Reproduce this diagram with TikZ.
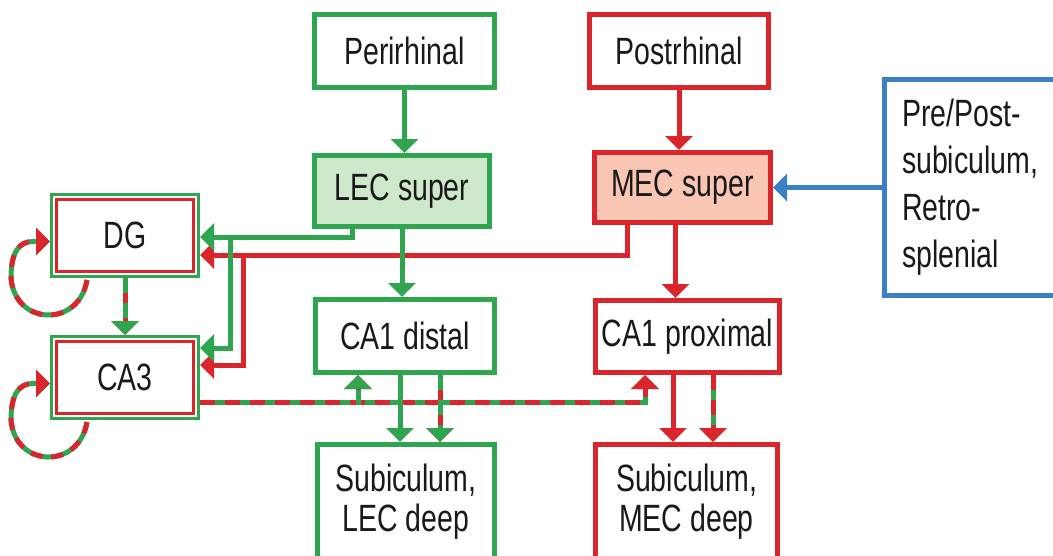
\documentclass[tikz,border=0pt]{standalone}
\usepackage{fontspec}
\setmainfont{Liberation Sans}[FakeStretch=0.75]
\usetikzlibrary{arrows.meta,calc}
\definecolor{hgreen}{RGB}{48,165,80}
\definecolor{hred}{RGB}{218,37,45}
\definecolor{hblue}{RGB}{59,128,194}
\definecolor{lecfill}{RGB}{206,232,203}
\definecolor{mecfill}{RGB}{248,198,178}

\begin{document}
\begin{tikzpicture}[x=1pt,y=-1pt,
  box/.style={draw,line width=5pt,inner sep=0pt,align=center,
    font=\fontsize{38}{40}\selectfont,text=black!90},
  gbox/.style={box,draw=hgreen},
  rbox/.style={box,draw=hred},
  hipbox/.style={box,draw=hgreen,line width=3pt,minimum width=147pt,minimum height=82pt,
    path picture={\draw[hred,line width=2.5pt]
      ([shift={(5pt,-5pt)}]path picture bounding box.north west) rectangle
      ([shift={(-5pt,5pt)}]path picture bounding box.south east);}},
  tip/.style={-{Triangle[length=14pt,width=27pt]}},
  garrow/.style={draw=hgreen,line width=5pt,tip},
  rarrow/.style={draw=hred,line width=5pt,tip},
  barrow/.style={draw=hblue,line width=5pt,tip},
  mixr/.style={garrow,postaction={draw=hred,dash pattern=on 15pt off 10pt}},
  mixg/.style={rarrow,postaction={draw=hgreen,dash pattern=on 15pt off 10pt}},
  loopr/.style={garrow,postaction={draw=hred,dash pattern=on 12pt off 9pt}},
]
\fill[white] (0,0) rectangle (1053,555);
\useasboundingbox (0,0) rectangle (1053,555);

\node[gbox,minimum width=180pt,minimum height=73pt] (peri) at (404.5,51) {Perirhinal};
\node[rbox,minimum width=179pt,minimum height=73pt] (post) at (679,51) {Postrhinal};
\node[gbox,fill=lecfill,minimum width=175pt,minimum height=71pt] (lec) at (402,191) {LEC super};
\node[rbox,fill=mecfill,minimum width=176pt,minimum height=70pt] (mec) at (682.5,187.5) {MEC super};
\node[box,draw=hblue,minimum width=175pt,minimum height=216pt,text width=140pt,align=left,
  font=\fontsize{38}{47}\selectfont] (pre) at (972,187.5) {Pre/Post-\\subiculum,\\Retro-\\splenial};
\node[hipbox] (dg) at (125,235.5) {DG};
\node[hipbox] (ca3) at (125,377.5) {CA3};
\node[gbox,minimum width=179pt,minimum height=73pt] (ca1d) at (405,336) {CA1 distal};
\node[rbox,minimum width=184pt,minimum height=72pt] (ca1p) at (687.5,336.5) {CA1 proximal};
\node[gbox,minimum width=177pt,minimum height=115pt] (subl) at (406,502) {Subiculum,\\LEC deep};
\node[rbox,minimum width=182pt,minimum height=115pt] (subm) at (686.5,502) {Subiculum,\\MEC deep};

\draw[garrow] (peri.south) -- (peri.south |- lec.north);
\draw[rarrow] (post.south) -- (post.south |- mec.north);
\draw[barrow] (pre.west) -- (mec.east);

\coordinate (mecdg) at (627,255);
\coordinate (mecca3) at (243,365);
\coordinate (lecdg) at (352,237);
\coordinate (lecca3) at (230,348);
\draw[rarrow] (mec.south -| mecdg) |- (dg.east |- mecdg);
\draw[rarrow] (mecca3 |- mecdg) |- (ca3.east |- mecca3);
\draw[garrow] (lec.south -| lecdg) |- (dg.east |- lecdg);
\draw[garrow] (lecca3 |- lecdg) |- (ca3.east |- lecca3);
\draw[garrow] (lec.south) -- (lec.south |- ca1d.north);
\draw[rarrow] ([xshift=-7pt]mec.south) -- ([xshift=-7pt]mec.south |- ca1p.north);

\draw[mixg] (dg.south) -- (dg.south |- ca3.north);
\draw[loopr] ($(dg.south west)+(37,2)$) .. controls +(-8,48) and +(4,48) .. ($(dg.south west)+(-39,0)$)
  .. controls +(0,-26) and +(-14,0) .. ($(dg.west)+(-17,6)$) -- ($(dg.west)+(0,6)$);
\draw[loopr] ($(ca3.south west)+(37,2)$) .. controls +(-8,48) and +(4,48) .. ($(ca3.south west)+(-39,0)$)
  .. controls +(0,-26) and +(-14,0) .. ($(ca3.west)+(-17,6)$) -- ($(ca3.west)+(0,6)$);

\draw[mixr] ($(ca3.east)+(0,24.5)$) -| ($(ca1p.south)+(-42.5,0)$);
\draw[mixg] ($(ca1d.south)+(-47,29.5)$) -- ($(ca1d.south)+(-47,0)$);

\draw[garrow] ([xshift=-5pt]ca1d.south) -- ([xshift=-5pt]ca1d.south |- subl.north);
\draw[mixg] ([xshift=35pt]ca1d.south) -- ([xshift=35pt]ca1d.south |- subl.north);
\draw[rarrow] ([xshift=-14.5pt]ca1p.south) -- ([xshift=-14.5pt]ca1p.south |- subm.north);
\draw[mixr] ([xshift=25.5pt]ca1p.south) -- ([xshift=25.5pt]ca1p.south |- subm.north);
\end{tikzpicture}
\end{document}
